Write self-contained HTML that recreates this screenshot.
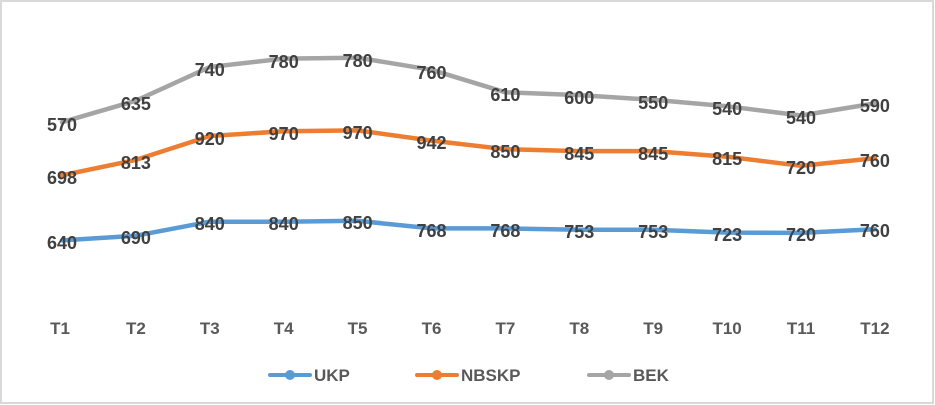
<!DOCTYPE html>
<html><head><meta charset="utf-8"><style>
html,body{margin:0;padding:0;background:#fff}
svg{display:block}
text{font-family:"Liberation Sans",sans-serif;font-weight:bold}
</style></head><body>
<svg width="935" height="405" viewBox="0 0 935 405">
<rect x="1" y="1" width="932" height="402" fill="#fff" stroke="#d9d9d9" stroke-width="2"/>
<g fill="none" stroke-width="4.5" stroke-linejoin="round" stroke-linecap="round">
<polyline stroke="#a5a5a5" points="62,122.2 135.9,100.7 209.8,67 283.7,58.6 357.6,57.7 431.5,69.8 505.4,92.3 579.3,95.1 653.2,99.8 727.1,106.3 801,115.5 874.9,103.4"/>
<polyline stroke="#ed7d31" points="62,175.3 135.9,159.9 209.8,136 283.7,131.3 357.6,130.4 431.5,140.6 505.4,149.2 579.3,151.1 653.2,151.1 727.1,156.7 801,165.8 874.9,158.3"/>
<polyline stroke="#5b9bd5" points="62,240.4 135.9,235.7 209.8,221.7 283.7,221.7 357.6,220.8 431.5,228.4 505.4,228.4 579.3,229.8 653.2,229.8 727.1,232.6 801,232.9 874.9,229.2"/>
</g>
<g fill="#404040" font-size="18" text-anchor="middle" transform="translate(0,1)">
<text x="62" y="130">570</text><text x="135.9" y="109">635</text><text x="209.8" y="75">740</text><text x="283.7" y="67">780</text><text x="357.6" y="66">780</text><text x="431.5" y="78">760</text><text x="505.4" y="100">610</text><text x="579.3" y="103">600</text><text x="653.2" y="108">550</text><text x="727.1" y="114">540</text><text x="801" y="123">540</text><text x="874.9" y="111">590</text>
<text x="62" y="183">698</text><text x="135.9" y="168">813</text><text x="209.8" y="144">920</text><text x="283.7" y="139">970</text><text x="357.6" y="138">970</text><text x="431.5" y="148">942</text><text x="505.4" y="157">850</text><text x="579.3" y="159">845</text><text x="653.2" y="159">845</text><text x="727.1" y="164">815</text><text x="801" y="173">720</text><text x="874.9" y="166">760</text>
<text x="62" y="248">640</text><text x="135.9" y="243">690</text><text x="209.8" y="229">840</text><text x="283.7" y="229">840</text><text x="357.6" y="228">850</text><text x="431.5" y="236">768</text><text x="505.4" y="236">768</text><text x="579.3" y="237">753</text><text x="653.2" y="237">753</text><text x="727.1" y="240">723</text><text x="801" y="240">720</text><text x="874.9" y="236">760</text>
</g>
<g fill="#595959" font-size="17" text-anchor="middle">
<text x="60" y="334">T1</text><text x="135.9" y="334">T2</text><text x="209.8" y="334">T3</text><text x="283.7" y="334">T4</text><text x="357.6" y="334">T5</text><text x="431.5" y="334">T6</text><text x="505.4" y="334">T7</text><text x="579.3" y="334">T8</text><text x="653.2" y="334">T9</text><text x="727.1" y="334">T10</text><text x="801" y="334">T11</text><text x="874.9" y="334">T12</text>
</g>
<g stroke-width="4" stroke-linecap="round">
<line x1="270" y1="375" x2="310" y2="375" stroke="#5b9bd5"/><circle cx="290" cy="375" r="5" fill="#5b9bd5"/>
<line x1="417" y1="375" x2="457" y2="375" stroke="#ed7d31"/><circle cx="437" cy="375" r="5" fill="#ed7d31"/>
<line x1="589" y1="375" x2="629" y2="375" stroke="#a5a5a5"/><circle cx="609" cy="375" r="5" fill="#a5a5a5"/>
</g>
<g fill="#595959" font-size="17">
<text x="314" y="381">UKP</text><text x="461" y="381">NBSKP</text><text x="633" y="381">BEK</text>
</g>
</svg>
</body></html>
